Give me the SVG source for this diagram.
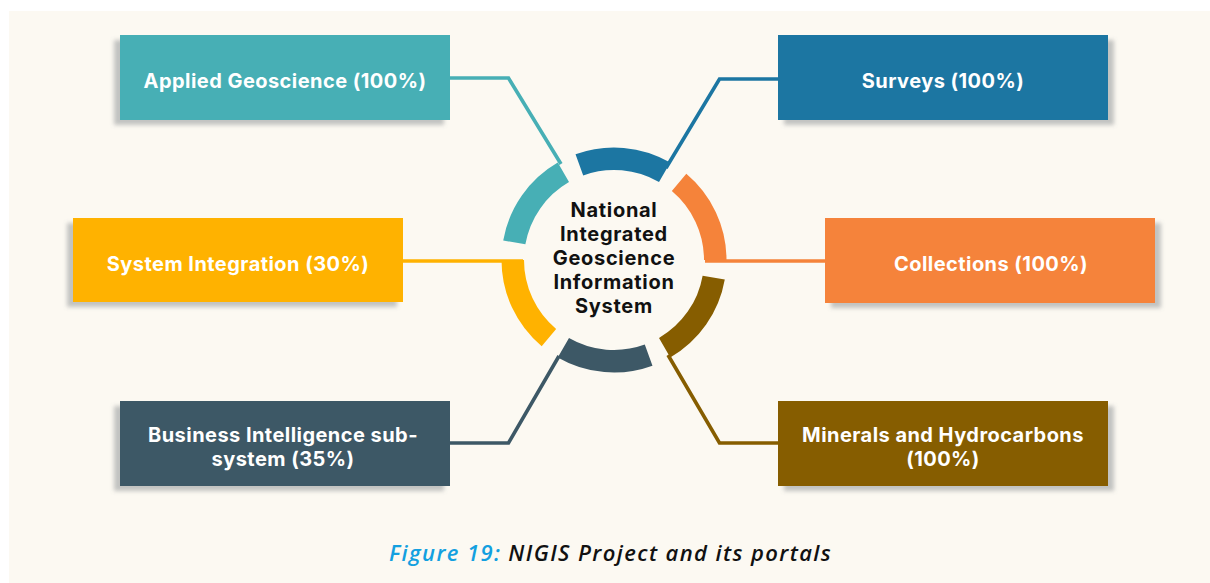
<svg xmlns="http://www.w3.org/2000/svg" width="1210" height="583" viewBox="0 0 1210 583">
  <defs>
    <filter id="shadowLeft" x="-10%" y="-20%" width="120%" height="150%">
      <feDropShadow dx="-6" dy="5" stdDeviation="2" flood-color="#6b7178" flood-opacity="0.4"/>
    </filter>
    <filter id="shadowRight" x="-10%" y="-20%" width="120%" height="150%">
      <feDropShadow dx="6" dy="5" stdDeviation="2" flood-color="#6b7178" flood-opacity="0.4"/>
    </filter>
    <style>
      .label { font-family: Inter, "Noto Sans", "Liberation Sans", sans-serif; font-weight: 700; font-size: 20px; letter-spacing: 0.45px; fill: #ffffff; text-anchor: middle; }
      .hub { font-family: Inter, "Noto Sans", "Liberation Sans", sans-serif; font-weight: 700; font-size: 20px; letter-spacing: 0.7px; fill: #111111; text-anchor: middle; }
      .caption { font-family: "Open Sans", "Liberation Sans", sans-serif; font-style: italic; font-weight: 600; font-size: 22px; letter-spacing: 1.4px; }
      .arc { fill: none; stroke-width: 22.5; stroke-linecap: butt; }
      .link { fill: none; stroke-width: 3.6; stroke-linejoin: miter; }
    </style>
  </defs>

  <!-- page -->
  <rect x="0" y="0" width="1210" height="583" fill="#ffffff"/>
  <rect x="9" y="11" width="1201" height="572" fill="#fcf9f2"/>

  <!-- connectors -->
  <g id="connectors">
    <polyline class="link" stroke="#47afb5" points="450,78 508.5,78 561,164"/>
    <polyline class="link" stroke="#1c76a2" points="778,79 719.5,79 666,168"/>
    <polyline class="link" stroke="#ffb200" points="403,261 523,261"/>
    <polyline class="link" stroke="#f5833a" points="825,261 705,261"/>
    <polyline class="link" stroke="#3d5866" points="450,443 508.5,443 559,356"/>
    <polyline class="link" stroke="#865d00" points="778,443 719.5,443 668,355"/>
  </g>

  <!-- hub ring and title -->
  <g id="hub">
    <path class="arc" stroke="#865d00" d="M713.71,277.58 A101.25,101.25 0 0 1 664.63,347.69"/>
    <path class="arc" stroke="#3d5866" d="M648.63,355.14 A101.25,101.25 0 0 1 563.38,347.69"/>
    <path class="arc" stroke="#ffb200" d="M548.92,337.56 A101.25,101.25 0 0 1 512.75,260"/>
    <path class="arc" stroke="#47afb5" d="M514.29,242.42 A101.25,101.25 0 0 1 563.38,172.31"/>
    <path class="arc" stroke="#1c76a2" d="M579.37,164.86 A101.25,101.25 0 0 1 664.63,172.31"/>
    <path class="arc" stroke="#f5833a" d="M679.08,182.44 A101.25,101.25 0 0 1 715.25,260"/>
    <text class="hub" x="614" y="217">National</text>
    <text class="hub" x="614" y="241">Integrated</text>
    <text class="hub" x="614" y="265">Geoscience</text>
    <text class="hub" x="614" y="289">Information</text>
    <text class="hub" x="614" y="313">System</text>
  </g>

  <g id="applied-geoscience">
    <rect x="120" y="35" width="330" height="85" fill="#47afb5" filter="url(#shadowLeft)"/>
    <text class="label" x="285" y="87.5">Applied Geoscience (100%)</text>
  </g>

  <g id="surveys">
    <rect x="778" y="35" width="330" height="85" fill="#1c76a2" filter="url(#shadowRight)"/>
    <text class="label" x="943" y="87.5">Surveys (100%)</text>
  </g>

  <g id="system-integration">
    <rect x="73" y="218" width="330" height="84" fill="#ffb200" filter="url(#shadowLeft)"/>
    <text class="label" x="238" y="271">System Integration (30%)</text>
  </g>

  <g id="collections">
    <rect x="825" y="218" width="330" height="85" fill="#f5833a" filter="url(#shadowRight)"/>
    <text class="label" x="991" y="271">Collections (100%)</text>
  </g>

  <g id="business-intelligence">
    <rect x="120" y="401" width="330" height="85" fill="#3d5866" filter="url(#shadowLeft)"/>
    <text class="label" x="283" y="441.5">Business Intelligence sub-</text>
    <text class="label" x="283" y="466">system (35%)</text>
  </g>

  <g id="minerals-hydrocarbons">
    <rect x="778" y="401" width="330" height="85" fill="#865d00" filter="url(#shadowRight)"/>
    <text class="label" x="943" y="441.5">Minerals and Hydrocarbons</text>
    <text class="label" x="943" y="466">(100%)</text>
  </g>

  <!-- caption -->
  <text class="caption" x="389" y="561"><tspan fill="#13a0e0">Figure 19:</tspan><tspan fill="#111111"> NIGIS Project and its portals</tspan></text>
</svg>
